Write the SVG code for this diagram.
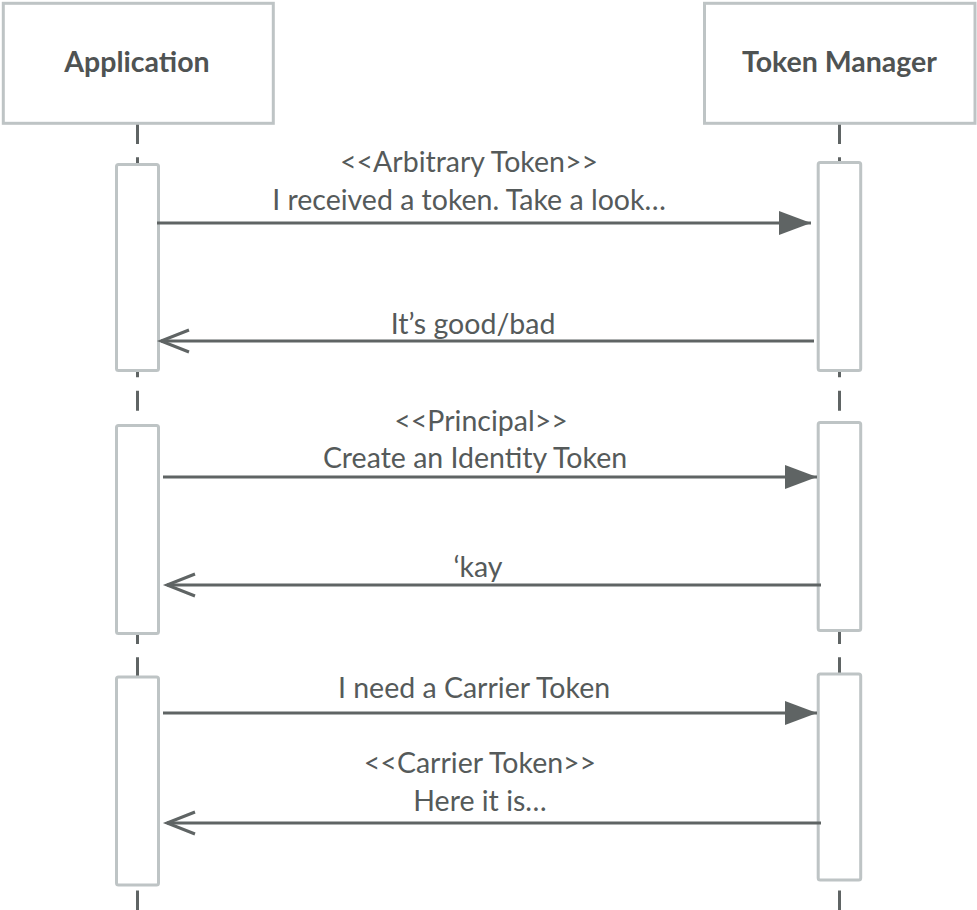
<svg xmlns="http://www.w3.org/2000/svg" width="977" height="910" viewBox="0 0 977 910">
<style>
.box{fill:#fff;stroke:#bec4c5;stroke-width:3}
.act{fill:#fff;stroke:#bec4c5;stroke-width:3}
.life{stroke:#5f6464;stroke-width:3;stroke-dasharray:20 13.33;fill:none}
.msg{stroke:#5f6464;stroke-width:3;fill:none}
.title{font-family:Lato,"Liberation Sans",sans-serif;font-weight:bold;font-size:28.5px;fill:#4f5353;text-anchor:middle}
.lbl{font-family:Lato,"Liberation Sans",sans-serif;font-size:28.5px;fill:#555a5a;text-anchor:middle}
</style>
<defs>
<marker id="filled" markerUnits="userSpaceOnUse" markerWidth="32" markerHeight="24" viewBox="0 0 32 24" refX="32" refY="12" orient="auto">
<path d="M0,0 L32,12 L0,24 z" fill="#5f6464"/>
</marker>
<marker id="open" markerUnits="userSpaceOnUse" markerWidth="36" markerHeight="30" viewBox="-2 -15 36 30" refX="30" refY="0" orient="auto" overflow="visible">
<path d="M2,-11 L30,0 L2,11" fill="none" stroke="#5f6464" stroke-width="3" stroke-linejoin="miter"/>
</marker>
</defs>
<g id="lifelines">
<line class="life" x1="137.5" y1="124" x2="137.5" y2="910"/>
<line class="life" x1="839.5" y1="124" x2="839.5" y2="910"/>
</g>
<g id="application">
<rect class="box" x="3.3" y="3.3" width="270" height="120"/>
<text class="title" x="137" y="72">Application</text>
</g>
<g id="token-manager">
<rect class="box" x="704.5" y="3.3" width="270.5" height="120"/>
<text class="title" x="839.5" y="72">Token Manager</text>
</g>
<g id="activations">
<rect class="act" x="116.5" y="164.5" width="42" height="206" rx="2"/>
<rect class="act" x="818.2" y="162.5" width="42.5" height="208" rx="2"/>
<rect class="act" x="116.5" y="425.5" width="42" height="208" rx="2"/>
<rect class="act" x="818.2" y="422.5" width="42.5" height="208" rx="2"/>
<rect class="act" x="116.5" y="677" width="42" height="208" rx="2"/>
<rect class="act" x="818.2" y="674" width="42.5" height="206" rx="2"/>
</g>
<g id="connectors">
<line class="msg" x1="157" y1="223" x2="811" y2="223" marker-end="url(#filled)"/>
<line class="msg" x1="814" y1="341" x2="161" y2="341" marker-end="url(#open)"/>
<line class="msg" x1="163" y1="477" x2="817" y2="477" marker-end="url(#filled)"/>
<line class="msg" x1="821" y1="585" x2="167" y2="585" marker-end="url(#open)"/>
<line class="msg" x1="163" y1="713" x2="817" y2="713" marker-end="url(#filled)"/>
<line class="msg" x1="821" y1="823" x2="167" y2="823" marker-end="url(#open)"/>
</g>
<g id="labels">
<text class="lbl" x="469" y="172">&lt;&lt;Arbitrary Token&gt;&gt;</text>
<text class="lbl" x="469" y="210">I received a token. Take a look…</text>
<text class="lbl" x="473" y="334">It’s good/bad</text>
<text class="lbl" x="481" y="431">&lt;&lt;Principal&gt;&gt;</text>
<text class="lbl" x="475" y="468">Create an Identity Token</text>
<text class="lbl" x="478" y="577">‘kay</text>
<text class="lbl" x="474" y="698">I need a Carrier Token</text>
<text class="lbl" x="480" y="773">&lt;&lt;Carrier Token&gt;&gt;</text>
<text class="lbl" x="480" y="811">Here it is…</text>
</g>
</svg>
